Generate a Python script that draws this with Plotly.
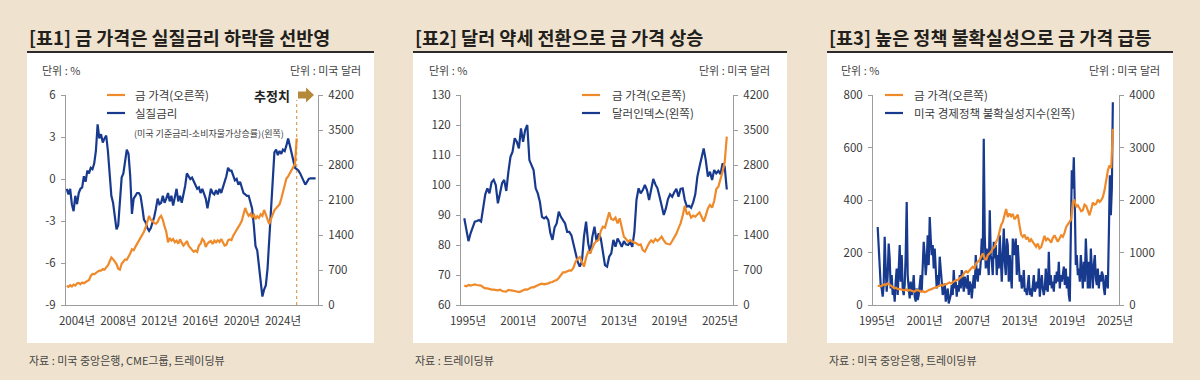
import numpy as np
import plotly.graph_objects as go

W, H = 1200, 380
def fx(x): return x / W
def fy(y): return 1 - y / H

# ---------------- DATA ----------------
# Panel 1: real rate (%) and gold price (USD), bi-monthly
p1_start, p1_step = 2003.0, 1 / 6
p1_real_rate = [-0.7, -1.1, -0.7, -1.8, -2.3, -1.2, -1.8, -1.0, -0.7, -0.6, 0.2, -0.2, 0.6, 0.4, 0.8, 0.7,
                1.1, 2.0, 3.9, 2.9, 3.2, 2.6, 2.9, 3.1, 2.0, 0.2, -1.2, -1.7, -2.7, -3.6, -3.3, -1.4,
                0.1, 0.4, 1.2, 2.1, 1.8, 0.2, -2.5, -1.4, -1.2, -1.0, -1.0, -1.2, -2.0, -2.9, -3.1, -3.5,
                -3.7, -3.5, -3.1, -2.7, -2.1, -1.4, -1.8, -1.7, -1.2, -1.7, -1.4, -1.0, -1.6, -1.2, -1.9, -1.2,
                -0.7, -1.6, -1.2, -1.7, -1.2, -0.5, 0.4, 0.2, 0.0, 0.1, -0.2, -0.5, -0.7, -0.6, -1.0, -0.7,
                -1.1, -1.4, -2.1, -1.4, -0.7, -1.0, -1.1, -0.8, -1.1, -0.7, -1.0, -0.6, -0.2, 0.2, 0.8, 0.6,
                0.6, 0.2, -0.1, 0.0, -0.4, -0.2, -0.7, -1.0, -1.1, -1.2, -1.2, -1.6, -2.1, -3.3, -4.8, -5.1,
                -6.2, -7.3, -8.4, -7.9, -7.6, -6.4, -4.5, -2.1, 0.0, 1.9, 2.1, 1.7, 2.0, 1.8, 2.1, 2.0,
                2.4, 2.9, 2.4, 1.8, 1.3, 0.8, 0.7, 0.6, 0.4, 0.1, -0.2, -0.4, -0.2, 0.0, 0.05, 0.05,
                0.05, 0.05]
p1_gold = [383, 363, 396, 370, 409, 389, 429, 442, 416, 449, 436, 462, 482, 502, 581, 620, 614, 647, 667, 686,
           686, 719, 706, 752, 792, 871, 950, 917, 858, 818, 726, 706, 825, 865, 911, 904, 964, 1030, 1115, 1096,
           1162, 1221, 1261, 1327, 1386, 1465, 1558, 1663, 1782, 1703, 1683, 1637, 1624, 1663, 1742, 1782, 1703,
           1571, 1465, 1254, 1340, 1287, 1320, 1254, 1287, 1228, 1313, 1247, 1188, 1228, 1280, 1188, 1148, 1115,
           1063, 1089, 1063, 1188, 1228, 1320, 1280, 1162, 1228, 1261, 1280, 1221, 1287, 1254, 1294, 1261, 1320,
           1254, 1188, 1201, 1294, 1313, 1300, 1386, 1439, 1511, 1551, 1617, 1683, 1822, 1940, 1848, 1782, 1822,
           1742, 1822, 1716, 1775, 1742, 1815, 1782, 1901, 1795, 1703, 1617, 1716, 1802, 1894, 1934, 1980, 2013,
           2125, 2277, 2422, 2528, 2574, 2627, 2706, 2759, 2825, 3333]
p1_xticks = [2004, 2008, 2012, 2016, 2020, 2024]
p1_left_ticks = [-9, -6, -3, 0, 3, 6]
p1_right_ticks = [0, 700, 1400, 2100, 2800, 3500, 4200]

# Panel 2: dollar index and gold price (USD), quarterly
p2_start, p2_step = 1994.56, 0.25
p2_dollar_index = [88.9, 85.6, 81.3, 83.9, 85.6, 87.8, 88.0, 88.3, 87.8, 92.2, 96.9, 98.9, 97.2, 100.9, 101.7,
                   100.0, 93.9, 97.2, 100.6, 101.7, 98.0, 104.4, 109.4, 111.1, 115.6, 114.4, 112.2, 118.9, 114.4,
                   118.3, 120.0, 108.3, 106.9, 105.0, 98.9, 97.2, 94.4, 89.4, 88.9, 89.4, 88.3, 83.9, 81.7, 85.8,
                   87.2, 91.1, 89.4, 88.3, 87.2, 84.4, 84.4, 83.3, 80.2, 77.2, 74.4, 72.8, 74.4, 82.8, 87.8, 80.6,
                   77.2, 82.8, 86.1, 81.1, 83.9, 82.2, 77.2, 73.3, 72.8, 76.1, 77.2, 81.7, 79.4, 82.2, 80.9, 79.4,
                   81.3, 80.2, 80.0, 80.9, 79.4, 84.4, 95.0, 98.9, 97.2, 98.3, 100.0, 98.3, 95.0, 98.3, 102.0,
                   100.2, 98.9, 96.1, 93.1, 90.0, 92.2, 95.3, 96.9, 96.1, 97.6, 98.7, 96.1, 98.7, 98.9, 95.0, 92.8,
                   93.1, 92.4, 94.2, 96.9, 102.8, 106.1, 109.8, 112.2, 108.3, 102.8, 104.4, 101.7, 105.0, 103.9,
                   104.7, 103.6, 107.2, 106.1, 98.5]
p2_gold = [387, 373, 400, 387, 400, 413, 400, 393, 387, 353, 333, 333, 313, 307, 307, 300, 293, 307, 280, 273,
           267, 300, 287, 287, 280, 273, 260, 273, 300, 313, 307, 333, 353, 353, 380, 393, 413, 427, 413, 420,
           433, 453, 460, 487, 500, 540, 587, 653, 653, 667, 693, 687, 747, 867, 927, 960, 847, 767, 947, 1067,
           1047, 1147, 1233, 1280, 1300, 1480, 1567, 1547, 1733, 1853, 1720, 1700, 1747, 1633, 1733, 1533, 1367,
           1320, 1267, 1300, 1267, 1247, 1233, 1200, 1213, 1100, 1067, 1160, 1240, 1293, 1253, 1320, 1280, 1320,
           1367, 1293, 1233, 1220, 1213, 1280, 1347, 1427, 1533, 1633, 1787, 1987, 1813, 1853, 1747, 1787, 1767,
           1813, 1853, 1767, 1667, 1787, 1933, 2000, 1947, 2080, 2320, 2367, 2500, 2667, 2853, 3367]
p2_xticks = [1995, 2001, 2007, 2013, 2019, 2025]
p2_left_ticks = [60, 70, 80, 90, 100, 110, 120, 130]
p2_right_ticks = [0, 700, 1400, 2100, 2800, 3500, 4200]

# Panel 3: US economic policy uncertainty index and gold price (USD)
p3_epu_start, p3_epu_step = 1995.09, 0.1261
p3_epu = [297, 228, 120, 76, 63, 32, 76, 260, 139, 51, 114, 234, 177, 63, 114, 38, 63, 13, 89, 139, 38, 165,
          228, 89, 190, 63, 38, 76, 190, 392, 114, 63, 25, 89, 38, 63, 114, 32, 13, 63, 19, 38, 76, 114, 51, 133,
          241, 190, 114, 165, 266, 152, 335, 253, 190, 228, 139, 215, 114, 63, 114, 76, 184, 114, 89, 38, 63, 82,
          13, 38, 63, 6, 25, 38, 76, 38, 133, 63, 89, 32, 76, 51, 114, 63, 133, 76, 51, 108, 76, 63, 114, 38, 89,
          76, 25, 89, 114, 63, 190, 114, 89, 139, 114, 165, 253, 171, 633, 266, 139, 215, 165, 114, 361, 190, 165,
          114, 241, 177,
          228, 114, 190, 139, 266, 165, 89, 190, 291, 165, 114, 253, 228, 89, 190, 114, 63, 253, 215, 190, 253,
          114, 228, 139, 89, 114, 63, 76, 133, 51, 63, 38, 89, 114, 38, 63, 32, 89, 114, 51, 63, 89, 63, 139, 32,
          76, 114, 63, 38, 63, 139, 63, 51, 203, 76, 114, 63, 89, 51, 114, 82, 127, 89, 165, 63, 114, 89, 114,
          146, 76, 139, 63, 108, 38, 13, 266, 513, 443, 563, 380, 152, 190, 114, 139, 89, 190, 127, 63, 165, 89,
          253, 114, 63, 165, 63, 215, 114, 63, 152, 190, 101, 76, 139, 63, 114, 89, 127, 114, 63, 38, 114, 89,
          63, 266, 494, 342, 443, 772]
p3_gold_start, p3_gold_step = 1995.09, 0.2102
p3_gold = [367, 367, 354, 380, 392, 380, 411, 392, 367, 348, 317, 329, 304, 304, 298, 285, 279, 298, 272, 285,
           272, 266, 253, 279, 285, 266, 253, 266, 247, 253, 279, 291, 298, 317, 329, 335, 348, 367, 380, 367,
           392, 392, 411, 430, 411, 443, 456, 475, 475, 506, 538, 557, 620, 646, 620, 665, 696, 728, 696, 791,
           823, 854, 918, 981, 899, 854, 949, 981, 1013, 1076, 1101,
           1203, 1266, 1393, 1519, 1583, 1709, 1830, 1677, 1741, 1690, 1734, 1633, 1677, 1722, 1519, 1342, 1298,
           1342, 1253, 1291, 1203, 1253, 1203, 1152, 1108, 1171, 1076, 1101, 1234, 1317, 1234, 1266, 1234, 1190,
           1279, 1329, 1266, 1203, 1266, 1329, 1298, 1374, 1488, 1551, 1583, 1633, 1960, 1990, 1867, 1899, 1848,
           1785, 1804, 1912, 1886, 1804, 1709, 1823, 1950, 1912, 1931, 2007, 1962, 1994, 2057, 2184, 2405, 2564,
           2659, 2608, 3355]
p3_xticks = [1995, 2001, 2007, 2013, 2019, 2025]
p3_left_ticks = [0, 200, 400, 600, 800]
p3_right_ticks = [0, 1000, 2000, 3000, 4000]

titles = ["[표1] 금 가격은 실질금리 하락을 선반영",
          "[표2] 달러 약세 전환으로 금 가격 상승",
          "[표3] 높은 정책 불확실성으로 금 가격 급등"]
sources = ["자료 : 미국 중앙은행, CME그룹, 트레이딩뷰", "자료 : 트레이딩뷰", "자료 : 미국 중앙은행, 트레이딩뷰"]
legend_gold = "금 가격(오른쪽)"
legend_blue = ["실질금리", "달러인덱스(왼쪽)", "미국 경제정책 불확실성지수(왼쪽)"]
legend_blue_sub = "(미국 기준금리-소비자물가상승률)(왼쪽)"
unit_left, unit_right = "단위 : %", "단위 : 미국 달러"
estimate_label = "추정치"

# ---------------- STYLE ----------------
BG = "#EFE3CF"
ORANGE = "#EF8A2A"
NAVY = "#183A8E"
AXIS = "#9C9C9C"
TXT = "#3A3A3A"
FONT = "Noto Sans CJK KR, Noto Sans, sans-serif"

def xs(start, step, vals):
    return start + np.arange(len(vals)) * step

fig = go.Figure()

series = [
    (xs(p1_start, p1_step, p1_real_rate), p1_real_rate, "x", "y", NAVY),
    (xs(p1_start, p1_step, p1_gold), p1_gold, "x", "y2", ORANGE),
    (xs(p2_start, p2_step, p2_dollar_index), p2_dollar_index, "x2", "y3", NAVY),
    (xs(p2_start, p2_step, p2_gold), p2_gold, "x2", "y4", ORANGE),
    (xs(p3_epu_start, p3_epu_step, p3_epu), p3_epu, "x3", "y5", NAVY),
    (xs(p3_gold_start, p3_gold_step, p3_gold), p3_gold, "x3", "y6", ORANGE),
]
for x, y, xa, ya, c in series:
    fig.add_trace(go.Scatter(x=x, y=y, xaxis=xa, yaxis=ya, mode="lines",
                             line=dict(color=c, width=2.2), showlegend=False, hoverinfo="skip"))

# panel geometry (pixels)
panels = [
    dict(px0=27, px1=374, ax0=66, ax1=318, xr=[2002.93, 2027.4], xt=p1_xticks,
         lt=p1_left_ticks, rt=p1_right_ticks, lr=[-9, 6], rr=[0, 4200],
         ul=40, ur=363, lg0=107, lt_x=133),
    dict(px0=413, px1=787, ax0=461, ax1=733, xr=[1994.17, 2026.55], xt=p2_xticks,
         lt=p2_left_ticks, rt=p2_right_ticks, lr=[60, 130], rr=[0, 4200],
         ul=427, ur=772, lg0=582, lt_x=610),
    dict(px0=827, px1=1173, ax0=873, ax1=1119, xr=[1994.5, 2025.5], xt=p3_xticks,
         lt=p3_left_ticks, rt=p3_right_ticks, lr=[0, 800], rr=[0, 4000],
         ul=839, ur=1162, lg0=885, lt_x=912),
]

layout = dict(width=W, height=H, autosize=False, paper_bgcolor=BG, plot_bgcolor="rgba(0,0,0,0)",
              margin=dict(l=0, r=0, t=0, b=0, pad=0, autoexpand=False),
              font=dict(family=FONT, color=TXT), showlegend=False)
shapes, annots = [], []
tickfont = dict(family=FONT, size=11.5, color=TXT)

for i, p in enumerate(panels):
    n = i + 1
    xa = "xaxis" if n == 1 else f"xaxis{n}"
    yl_id, yr_id = 2 * i + 1, 2 * i + 2
    yl = "yaxis" if yl_id == 1 else f"yaxis{yl_id}"
    yr = f"yaxis{yr_id}"
    xref = "x" if n == 1 else f"x{n}"
    ylref = "y" if yl_id == 1 else f"y{yl_id}"
    layout[xa] = dict(domain=[fx(p["ax0"]), fx(p["ax1"])], range=p["xr"], anchor=ylref,
                      tickvals=p["xt"], ticktext=[f"{t}년" for t in p["xt"]], automargin=False,
                      showline=True, linecolor=AXIS, linewidth=1, ticks="", showgrid=False,
                      zeroline=False, tickfont=tickfont, ticklabelstandoff=5, fixedrange=True)
    layout[yl] = dict(domain=[fy(305), fy(95)], range=p["lr"], anchor=xref, tickvals=p["lt"],
                      ticktext=[str(t) for t in p["lt"]], automargin=False,
                      showline=True, linecolor=AXIS, linewidth=1, ticks="outside", ticklen=4,
                      tickcolor=AXIS, showgrid=False, zeroline=False, tickfont=tickfont,
                      ticklabelstandoff=3, fixedrange=True)
    layout[yr] = dict(overlaying=ylref, side="right", range=p["rr"], anchor=xref, tickvals=p["rt"],
                      automargin=False,
                      showline=True, linecolor=AXIS, linewidth=1, ticks="outside", ticklen=4,
                      tickcolor=AXIS, showgrid=False, zeroline=False, tickfont=tickfont,
                      ticklabelstandoff=3, fixedrange=True)

    # white panel + title rule
    shapes.append(dict(type="rect", xref="paper", yref="paper", x0=fx(p["px0"]), x1=fx(p["px1"]),
                       y0=fy(343), y1=fy(53), fillcolor="white", line=dict(width=0), layer="below"))
    shapes.append(dict(type="line", xref="paper", yref="paper", x0=fx(p["px0"]), x1=fx(p["px1"]),
                       y0=fy(52), y1=fy(52), line=dict(color="#2B2B2B", width=2)))
    annots.append(dict(xref="paper", yref="paper", x=fx(p["px0"]), y=fy(37), xanchor="left",
                       yanchor="middle", showarrow=False, text=f"<b>{titles[i]}</b>",
                       font=dict(family=FONT, size=18.5, color="#231F1C", weight=900)))
    annots.append(dict(xref="paper", yref="paper", x=fx(p["px0"]), y=fy(360), xanchor="left",
                       yanchor="middle", showarrow=False, text=sources[i],
                       font=dict(family=FONT, size=11, color="#444")))
    annots.append(dict(xref="paper", yref="paper", x=fx(p["ul"]), y=fy(70), xanchor="left",
                       yanchor="middle", showarrow=False, text=unit_left,
                       font=dict(family=FONT, size=11, color="#444")))
    annots.append(dict(xref="paper", yref="paper", x=fx(p["ur"]), y=fy(70), xanchor="right",
                       yanchor="middle", showarrow=False, text=unit_right,
                       font=dict(family=FONT, size=11, color="#444")))
    # legend
    for yy, col, txt in [(95, ORANGE, legend_gold), (113, NAVY, legend_blue[i])]:
        shapes.append(dict(type="line", xref="paper", yref="paper", x0=fx(p["lg0"]), x1=fx(p["lg0"] + 18),
                           y0=fy(yy), y1=fy(yy), line=dict(color=col, width=2.2)))
        annots.append(dict(xref="paper", yref="paper", x=fx(p["lt_x"]), y=fy(yy), xanchor="left",
                           yanchor="middle", showarrow=False, text=txt,
                           font=dict(family=FONT, size=11.5, color=TXT)))

annots.append(dict(xref="paper", yref="paper", x=fx(panels[0]["lt_x"] - 1), y=fy(133), xanchor="left",
                   yanchor="middle", showarrow=False, text=legend_blue_sub,
                   font=dict(family=FONT, size=9, color=TXT)))

# estimate marker on panel 1
x_est = xs(p1_start, p1_step, p1_gold)[-1]
shapes.append(dict(type="line", xref="x", yref="paper", x0=x_est, x1=x_est, y0=fy(305), y1=fy(100),
                   line=dict(color="#D4893A", width=1, dash="dot")))
ax0 = 298
pts = [(ax0, 91.5), (ax0 + 8, 91.5), (ax0 + 8, 87.5), (ax0 + 16, 95), (ax0 + 8, 102.5),
       (ax0 + 8, 98.5), (ax0, 98.5)]
path = "M " + " L ".join(f"{fx(a):.5f},{fy(b):.5f}" for a, b in pts) + " Z"
shapes.append(dict(type="path", xref="paper", yref="paper", path=path, fillcolor="#B5893A",
                   line=dict(width=0)))
annots.append(dict(xref="paper", yref="paper", x=fx(292), y=fy(95), xanchor="right", yanchor="middle",
                   showarrow=False, text=f"<b>{estimate_label}</b>",
                   font=dict(family=FONT, size=13, color="#222")))

layout["shapes"] = shapes
layout["annotations"] = annots
fig.update_layout(**layout)

page_fix = ("document.body.style.margin='0';document.body.style.padding='0';"
            "document.body.style.background='" + BG + "';document.body.style.overflow='hidden';")
fig.write_html("out.html", post_script=page_fix, config={"displayModeBar": False})
